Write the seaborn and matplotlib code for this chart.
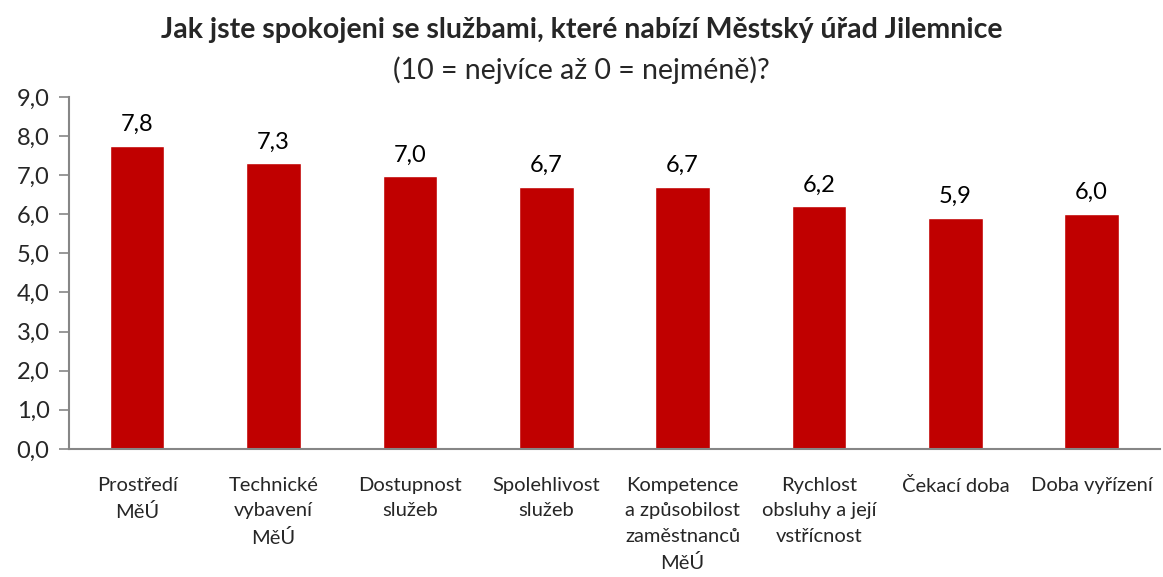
import matplotlib
matplotlib.use("Agg")
import matplotlib.pyplot as plt
import seaborn as sns
import pandas as pd

# chart data
categories = ["Prostředí\nMěÚ", "Technické\nvybavení\nMěÚ", "Dostupnost\nslužeb",
              "Spolehlivost\nslužeb", "Kompetence\na způsobilost\nzaměstnanců\nMěÚ",
              "Rychlost\nobsluhy a její\nvstřícnost", "Čekací doba", "Doba vyřízení"]
values = [7.75, 7.3, 6.97, 6.7, 6.7, 6.2, 5.9, 6.0]
y_ticks = [0, 1, 2, 3, 4, 5, 6, 7, 8, 9]

sns.set_style("white")
plt.rcParams['font.family'] = ['Lato', 'DejaVu Sans']

df = pd.DataFrame({"cat": categories, "val": values})

fig = plt.figure(figsize=(11.63, 5.77), dpi=100)
ax = fig.add_axes([0.0593, 0.222, 0.938, 0.610])

sns.barplot(data=df, x="cat", y="val", color="#C00000", width=0.40,
            saturation=1, ax=ax)

for i, v in enumerate(values):
    ax.text(i, v + 0.28, f"{v:.1f}".replace(".", ","), ha="center", va="bottom",
            fontsize=17, color="black")

ax.set_ylim(0, 9)
ax.set_yticks(y_ticks)
ax.set_yticklabels([f"{t:.1f}".replace(".", ",") for t in y_ticks], fontsize=17)
ax.set_xticks(range(len(categories)))
ax.set_xticklabels(categories, fontsize=14.5, linespacing=1.62, va="top")
ax.set_xlabel("")
ax.set_ylabel("")
ax.tick_params(axis="y", direction="out", length=7, color="#868686", width=1.2, pad=7, left=True)
ax.tick_params(axis="x", length=0, pad=20)

for s in ["top", "right"]:
    ax.spines[s].set_visible(False)
for s in ["left", "bottom"]:
    ax.spines[s].set_color("#868686")
    ax.spines[s].set_linewidth(1.5)

fig.text(0.5, 0.948, "Jak jste spokojeni se službami, které nabízí Městský úřad Jilemnice",
         ha="center", va="center", fontsize=20.5, fontweight="bold")
fig.text(0.5, 0.878, "(10 = nejvíce až 0 = nejméně)?", ha="center", va="center", fontsize=20.5)

fig.savefig("out.png", dpi=100)
